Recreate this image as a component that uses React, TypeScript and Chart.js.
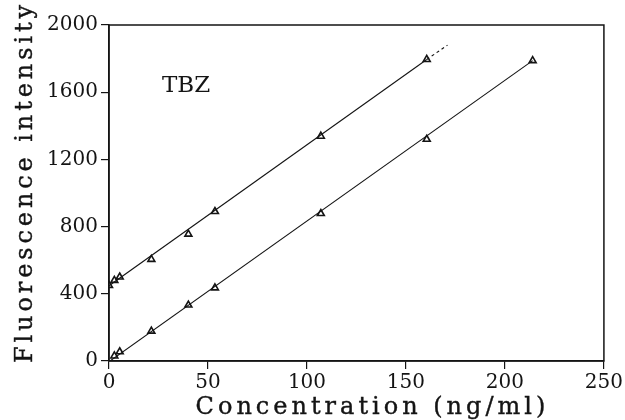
import { useEffect, useRef } from "react";
import { Chart, registerables } from "chart.js";

Chart.register(...registerables);

// Calibration measurements (concentration in ng/ml, fluorescence in arbitrary units)
const upperConc = [0, 2.7, 5.4, 21.4, 40.1, 53.5, 107, 160.5];
const upperIntensity = [450, 480, 500, 605, 755, 890, 1338, 1795];
const lowerConc = [2.7, 5.4, 21.4, 40.1, 53.5, 107, 160.5, 214];
const lowerIntensity = [30, 55, 178, 333, 435, 878, 1320, 1788];

// Regression line end points
const upperFitConc = [0, 160.5];
const upperFitIntensity = [448, 1795];
const upperExtConc = [160.5, 171];
const upperExtIntensity = [1795, 1880];
const lowerFitConc = [0, 214];
const lowerFitIntensity = [-4, 1788];

const xTicks = [0, 50, 100, 150, 200, 250];
const yTicks = [0, 400, 800, 1200, 1600, 2000];

const xTitle = "Concentration (ng/ml)";
const yTitle = "Fluorescence intensity";
const compoundLabel = "TBZ";

const SERIF = '"DejaVu Serif", "Liberation Serif", serif';
const INK = "#141414";

const pts = (xs: number[], ys: number[]) => xs.map((x, i) => ({ x, y: ys[i] }));

// Draws text centred on (0, 0) with extra space between the letters
function spacedText(ctx: CanvasRenderingContext2D, text: string, spacing: number) {
  const chars = Array.from(text);
  const widths = chars.map((c) => ctx.measureText(c).width);
  const total = widths.reduce((s, w) => s + w, 0) + spacing * (chars.length - 1);
  let x = -total / 2;
  ctx.textAlign = "left";
  chars.forEach((c, i) => {
    ctx.fillText(c, x, 0);
    ctx.strokeText(c, x, 0);
    x += widths[i] + spacing;
  });
}

// Closed frame, axis titles and the compound label
const framePlugin = {
  id: "frameAndLabels",
  afterDraw(chart: any) {
    const { ctx, chartArea: a } = chart;
    ctx.save();
    ctx.strokeStyle = INK;
    ctx.lineWidth = 1.5;
    ctx.strokeRect(a.left, a.top, a.right - a.left, a.bottom - a.top);

    ctx.fillStyle = INK;
    ctx.lineWidth = 0.4;
    ctx.font = `24px ${SERIF}`;
    ctx.textBaseline = "alphabetic";

    ctx.save();
    ctx.translate((a.left + a.right) / 2 + 14, 414);
    spacedText(ctx, xTitle, 4);
    ctx.restore();

    ctx.save();
    ctx.translate(32, (a.top + a.bottom) / 2 - 9);
    ctx.rotate(-Math.PI / 2);
    spacedText(ctx, yTitle, 3.9);
    ctx.restore();

    ctx.font = `23px ${SERIF}`;
    ctx.textAlign = "left";
    ctx.fillText(compoundLabel, a.left + 53, a.top + 67);
    ctx.restore();
  },
};

export default function App() {
  const canvasRef = useRef<HTMLCanvasElement>(null);

  useEffect(() => {
    let chart: Chart | null = null;
    let cancelled = false;

    const build = () => {
      if (cancelled || !canvasRef.current) return;
      const marker = {
        showLine: false,
        pointStyle: "triangle" as const,
        pointRadius: 4,
        pointBorderWidth: 1.6,
        pointBackgroundColor: "#ffffff",
        pointBorderColor: INK,
      };
      const line = {
        showLine: true,
        pointRadius: 0,
        borderColor: INK,
        borderWidth: 1.1,
      };
      chart = new Chart(canvasRef.current, {
        type: "scatter",
        data: {
          datasets: [
            { ...line, data: pts(upperFitConc, upperFitIntensity) },
            { ...line, borderDash: [3, 3], data: pts(upperExtConc, upperExtIntensity) },
            { ...line, data: pts(lowerFitConc, lowerFitIntensity) },
            { ...marker, data: pts(upperConc, upperIntensity) },
            { ...marker, data: pts(lowerConc, lowerIntensity) },
          ],
        },
        options: {
          animation: false,
          responsive: false,
          layout: { padding: { top: 25, right: 20, left: 0, bottom: 0 } },
          plugins: { legend: { display: false }, tooltip: { enabled: false } },
          scales: {
            x: {
              type: "linear",
              min: 0,
              max: 250,
              afterBuildTicks: (s: any) => {
                s.ticks = xTicks.map((v) => ({ value: v }));
              },
              afterFit: (s: any) => {
                s.height = 59;
              },
              grid: {
                drawOnChartArea: false,
                drawTicks: true,
                tickLength: 8,
                color: INK,
                lineWidth: 1.2,
              },
              border: { display: true, color: INK, width: 1.5 },
              ticks: {
                color: INK,
                padding: 2,
                maxRotation: 0,
                font: { family: SERIF, size: 20 },
                callback: (v: any) => String(v),
              },
            },
            y: {
              type: "linear",
              min: 0,
              max: 2000,
              afterBuildTicks: (s: any) => {
                s.ticks = yTicks.map((v) => ({ value: v }));
              },
              afterFit: (s: any) => {
                s.width = 109;
              },
              grid: {
                drawOnChartArea: false,
                drawTicks: true,
                tickLength: 8,
                color: INK,
                lineWidth: 1.2,
              },
              border: { display: true, color: INK, width: 1.5 },
              ticks: {
                color: INK,
                padding: 3,
                font: { family: SERIF, size: 20 },
                callback: (v: any) => String(v),
              },
            },
          },
        },
        plugins: [framePlugin],
      });
    };

    // Make sure the serif face is ready before the canvas text is drawn
    const fonts = (document as any).fonts;
    if (fonts && fonts.load) {
      Promise.all([fonts.load('20px "DejaVu Serif"'), fonts.load('24px "DejaVu Serif"')])
        .catch(() => undefined)
        .then(build);
    } else {
      build();
    }

    return () => {
      cancelled = true;
      if (chart) chart.destroy();
    };
  }, []);

  return (
    <div style={{ position: "absolute", left: 0, top: 0, width: 625, height: 420, background: "#fff" }}>
      <canvas ref={canvasRef} width={625} height={420} style={{ display: "block" }} />
    </div>
  );
}
